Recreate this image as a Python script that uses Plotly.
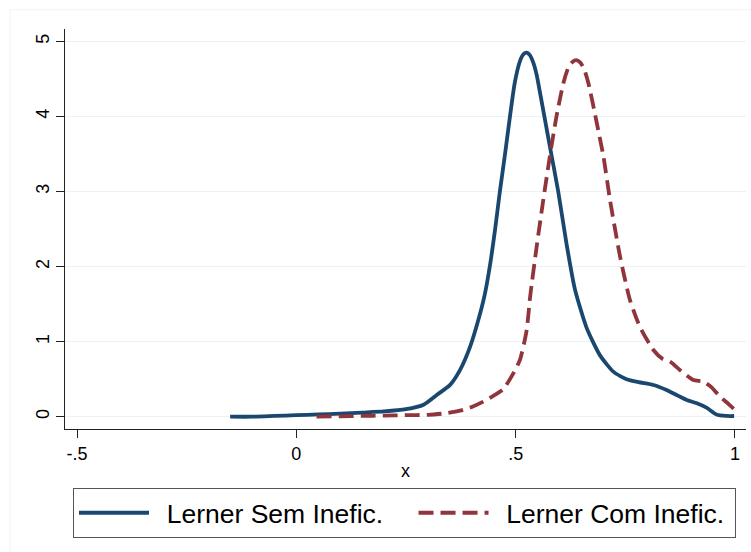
import plotly.graph_objects as go

# Lerner Sem Inefic. (kernel density)
x_sem = [-0.151, -0.1, -0.05, 0.0, 0.05, 0.1, 0.15, 0.2, 0.25, 0.29, 0.32, 0.35, 0.373, 0.396,
         0.415, 0.43, 0.441, 0.453, 0.464, 0.476, 0.487, 0.498, 0.51, 0.518, 0.525, 0.532,
         0.54, 0.548, 0.556, 0.567, 0.578, 0.597, 0.616, 0.635, 0.662, 0.692, 0.7225, 0.753,
         0.78, 0.814, 0.844, 0.87, 0.89, 0.913, 0.935, 0.958, 0.98, 0.998]
y_sem = [0.0, 0.0, 0.01, 0.02, 0.03, 0.04, 0.055, 0.07, 0.1, 0.16, 0.29, 0.42, 0.62, 0.93,
         1.29, 1.64, 2.0, 2.49, 3.0, 3.51, 4.0, 4.45, 4.74, 4.83, 4.85, 4.82,
         4.72, 4.55, 4.3, 3.95, 3.6, 3.0, 2.3, 1.7, 1.18, 0.82, 0.6, 0.5,
         0.46, 0.422, 0.356, 0.28, 0.222, 0.178, 0.12, 0.03, 0.01, 0.009]

# Lerner Com Inefic. (kernel density)
x_com = [0.046, 0.1, 0.15, 0.2, 0.25, 0.3, 0.34, 0.373, 0.4, 0.426, 0.45, 0.472, 0.495, 0.51,
         0.525, 0.533, 0.548, 0.563, 0.578, 0.593, 0.609, 0.62, 0.63, 0.638, 0.647, 0.656,
         0.666, 0.685, 0.70, 0.715, 0.738, 0.7605, 0.783, 0.814, 0.835, 0.852, 0.875, 0.905,
         0.928, 0.945, 0.966, 0.985, 0.998]
y_com = [0.0, 0.005, 0.01, 0.015, 0.02, 0.025, 0.045, 0.08, 0.13, 0.2, 0.28, 0.37, 0.58, 0.76,
         1.15, 1.6, 2.27, 2.89, 3.47, 4.0, 4.45, 4.65, 4.73, 4.75, 4.72, 4.63,
         4.44, 3.91, 3.47, 2.89, 2.133, 1.556, 1.2, 0.889, 0.77, 0.733, 0.62, 0.489,
         0.467, 0.4, 0.267, 0.17, 0.1]

x_ticks = [-0.5, 0, 0.5, 1]
x_tick_labels = ["-.5", "0", ".5", "1"]
y_ticks = [0, 1, 2, 3, 4, 5]
y_tick_labels = ["0", "1", "2", "3", "4", "5"]

series_names = ["Lerner Sem Inefic.", "Lerner Com Inefic."]

FONT = "Liberation Sans, Arial, sans-serif"
PAD = "\u00a0\u2009"

fig = go.Figure()
fig.add_trace(go.Scatter(
    x=x_sem, y=y_sem, mode="lines",
    name=PAD + series_names[0] + "\u00a0\u00a0\u2009\u2009",
    line=dict(color="#1a476f", width=3.8, shape="spline", smoothing=0.6),
))
fig.add_trace(go.Scatter(
    x=x_com, y=y_com, mode="lines",
    name=PAD + series_names[1] + "\u2009",
    line=dict(color="#90353b", width=3.8, dash="15px,7px", shape="spline", smoothing=0.6),
))

fig.update_layout(
    width=751, height=552,
    margin=dict(l=65, r=5, t=29, b=123),
    paper_bgcolor="white", plot_bgcolor="white",
    font=dict(family=FONT, color="black", size=18),
    showlegend=True,
    legend=dict(
        orientation="h",
        xref="container", yref="container",
        x=73 / 751, xanchor="left",
        y=1 - 488 / 552, yanchor="top",
        bordercolor="#555555", borderwidth=1, bgcolor="white",
        font=dict(size=26.5, family=FONT, color="black"),
        itemwidth=70,
        tracegroupgap=0,
    ),
    xaxis=dict(
        range=[-0.5274, 1.0251],
        tickvals=x_ticks, ticktext=x_tick_labels,
        ticks="outside", ticklen=8, tickcolor="#222222", tickwidth=1,
        showline=True, linecolor="#222222", linewidth=1,
        showgrid=False, zeroline=False,
        tickfont=dict(size=18),
        title=dict(text="x", font=dict(size=18), standoff=1),
    ),
    yaxis=dict(
        range=[-0.164, 5.165],
        tickvals=y_ticks, ticktext=y_tick_labels,
        ticks="outside", ticklen=8, tickcolor="#222222", tickwidth=1,
        showline=True, linecolor="#222222", linewidth=1,
        showgrid=True, gridcolor="#eaf2f3", gridwidth=1,
        zeroline=False, tickangle=-90,
        tickfont=dict(size=18),
    ),
    shapes=[dict(
        type="rect", xref="paper", yref="paper",
        x0=-0.0808, x1=1.03, y0=-0.34, y1=1.0483,
        line=dict(color="#eef3f4", width=1), layer="below",
    )],
)

fig.write_html("out.html")
